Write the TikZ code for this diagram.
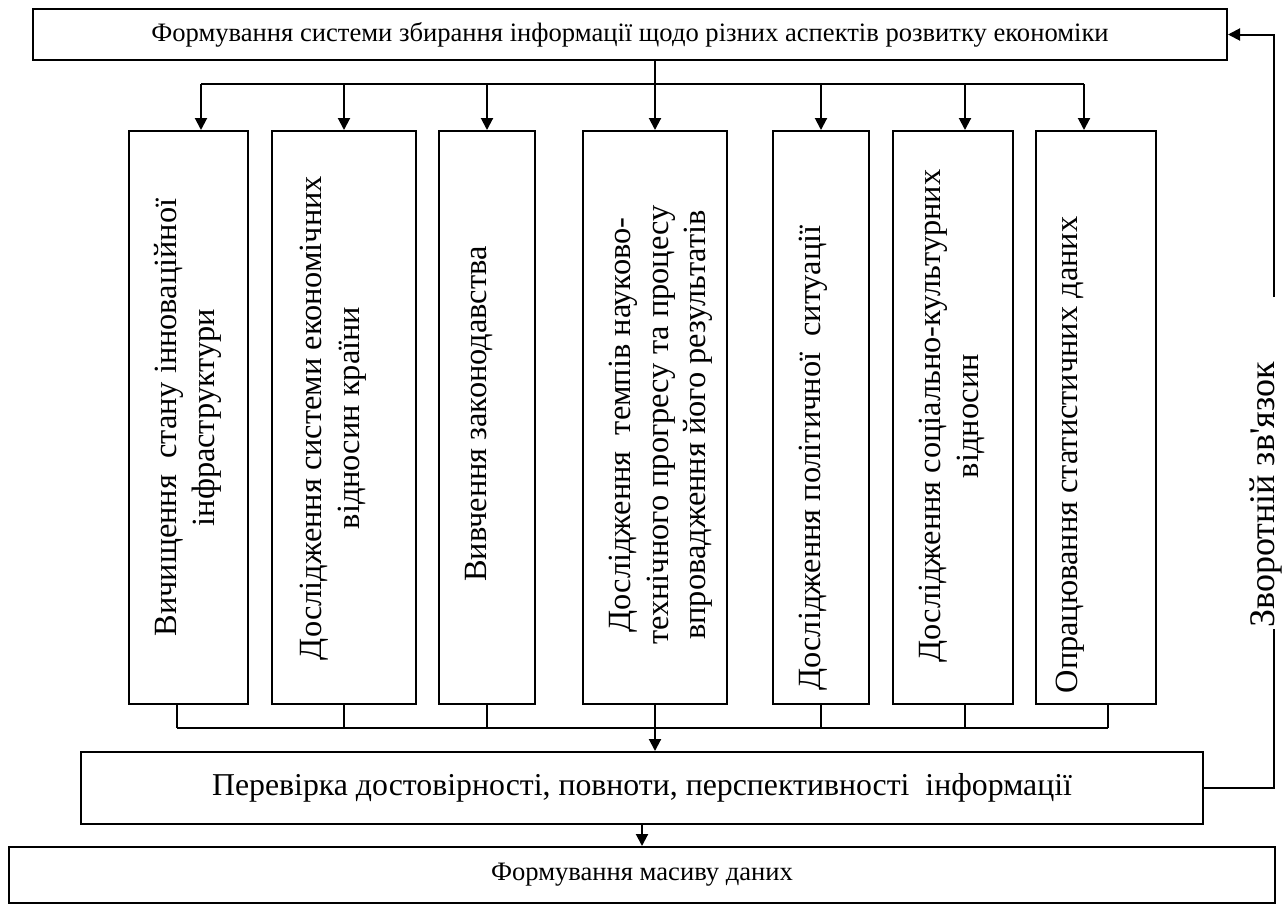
\documentclass[tikz,border=0pt]{standalone}
\usepackage{fontspec}
\setmainfont{Liberation Serif}
\usetikzlibrary{arrows.meta}

\begin{document}
\begin{tikzpicture}[x=0.5pt, y=-0.5pt, line width=1pt,
  >={Triangle[length=6pt,width=6pt]},
  blk/.style={draw=black, line width=1pt, minimum height=286.5pt, inner sep=0pt},
  vtxt/.style={rotate=90, align=center, inner sep=0pt, font=\fontsize{16.2}{18.8}\selectfont},
  wide/.style={draw=black, line width=1pt, inner sep=0pt}]
\useasboundingbox (0,0) rectangle (1284,906);
% top box
\node[wide, minimum width=597pt, minimum height=25.5pt, font=\fontsize{13.3}{15}\selectfont] (F) at (630,34.5) {Формування системи збирання інформації щодо різних аспектів розвитку економіки};
% blocks
\node[blk, minimum width=59.5pt] (b1) at (188.5,417.5) {};
\node[blk, minimum width=72pt] (b2) at (344,417.5) {};
\node[blk, minimum width=48pt] (b3) at (487,417.5) {};
\node[blk, minimum width=72pt] (b4) at (655,417.5) {};
\node[blk, minimum width=48pt] (b5) at (821,417.5) {};
\node[blk, minimum width=60pt] (b6) at (953,417.5) {};
\node[blk, minimum width=60pt] (b7) at (1096,417.5) {};
\node[vtxt] (t1) at (188,417.5) {Вичищення~ стану інноваційної\\інфраструктури};
\node[vtxt] (t2) at (333,418) {Дослідження системи економічних\\відносин країни};
\node[vtxt] (t3) at (479,414) {Вивчення законодавства};
\node[vtxt] (t4) at (661,425) {Дослідження~ темпів науково-\\технічного прогресу та процесу\\впровадження його результатів};
\node[vtxt] (t5) at (813,458) {Дослідження політичної~ ситуації};
\node[vtxt] (t6) at (952,416) {Дослідження соціально-культурних\\відносин};
\node[vtxt] (t7) at (1070,455) {Опрацювання статистичних даних};
% check box and data array
\node[wide, minimum width=561pt, minimum height=36pt, font=\fontsize{15.9}{18}\selectfont] (P) at (642,788) {Перевірка достовірності, повноти, перспективності~ інформації};
\node[wide, minimum width=633pt, minimum height=28pt, font=\fontsize{13.3}{16}\selectfont] (M) at (642,875) {Формування масиву даних};
% upper bus
\coordinate (u1) at (201,84);
\coordinate (u2) at (344,84);
\coordinate (u3) at (487,84);
\coordinate (u4) at (655,84);
\coordinate (u5) at (821,84);
\coordinate (u6) at (965,84);
\coordinate (u7) at (1084,84);
\draw (u4 |- F.south) -- (u4);
\draw (u1) -- (u7);
\foreach \i in {1,...,7}
  \draw[->] (u\i) -- (u\i |- b\i.north);
% lower bus
\coordinate (d1) at (177,728);
\coordinate (d2) at (344,728);
\coordinate (d3) at (487,728);
\coordinate (d4) at (655,728);
\coordinate (d5) at (821,728);
\coordinate (d6) at (965,728);
\coordinate (d7) at (1108,728);
\foreach \i in {1,2,3,5,6,7}
  \draw (d\i |- b\i.south) -- (d\i);
\draw (d1) -- (d7);
\draw[->] (d4 |- b4.south) -- (d4 |- P.north);
\draw[->] (P) -- (M);
% feedback
\coordinate (c1) at (1274,788);
\coordinate (c2) at (1274,34.5);
\coordinate (c3) at (1274,297);
\node[rotate=90, inner sep=0pt, font=\fontsize{18}{20}\selectfont] (fb) at (1266,495) {Зворотній зв\textquotesingle язок};
\draw (P.east) -- (c1) -- (c1 |- fb.west);
\draw[->] (c3) -- (c2) -- (F.east);
\end{tikzpicture}
\end{document}
